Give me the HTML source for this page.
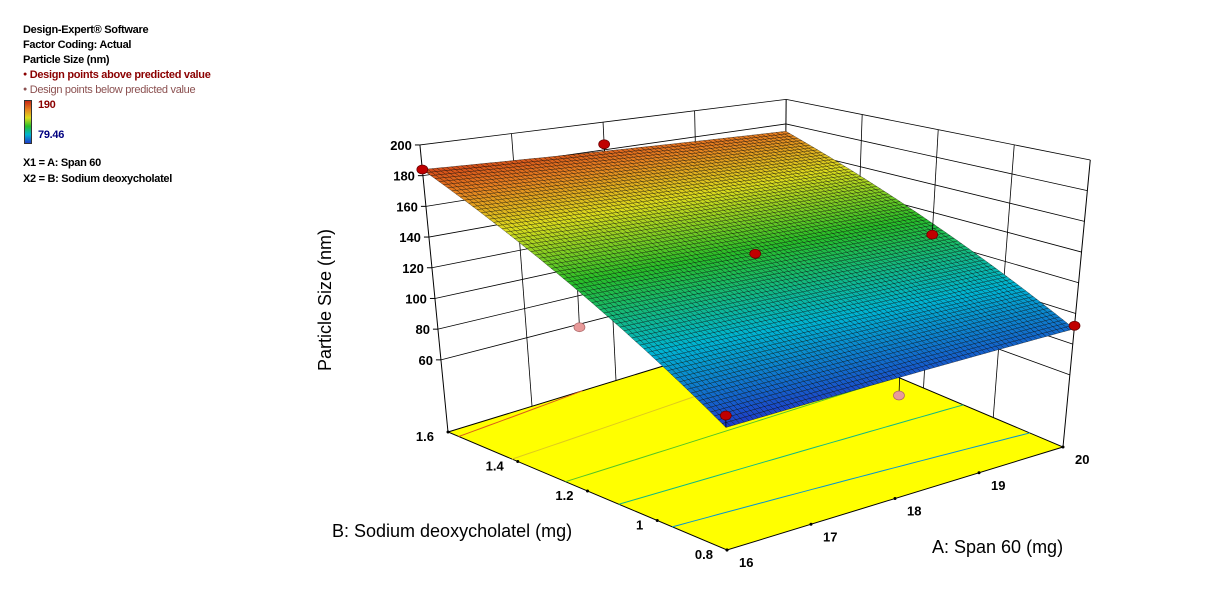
<!DOCTYPE html>
<html><head><meta charset="utf-8"><style>
body{margin:0;background:#fff;width:1205px;height:608px;overflow:hidden;font-family:"Liberation Sans",Arial,sans-serif}
.lg{position:absolute;left:23px;font-size:11px;font-weight:bold;white-space:nowrap;letter-spacing:-0.3px}
</style></head><body>
<div class="lg" style="top:24px">Design-Expert® Software</div>
<div class="lg" style="top:39px">Factor Coding: Actual</div>
<div class="lg" style="top:54px">Particle Size (nm)</div>
<div class="lg" style="top:69px;color:#8b0000"><span style="font-size:7px;vertical-align:2px">●</span> Design points above predicted value</div>
<div class="lg" style="top:84px;color:#8b5050;font-weight:normal"><span style="font-size:7px;vertical-align:2px">●</span> Design points below predicted value</div>
<div style="position:absolute;left:24px;top:100px;width:6px;height:42px;border:1px solid #333;background:linear-gradient(#c82814,#e68020,#dcdc1e,#28be28,#00b4d2,#1e3cc8)"></div>
<div class="lg" style="top:99px;left:38px;color:#8b0000">190</div>
<div class="lg" style="top:129px;left:38px;color:#000080">79.46</div>
<div class="lg" style="top:157px">X1 = A: Span 60</div>
<div class="lg" style="top:173px">X2 = B: Sodium deoxycholatel</div>
<svg id="chart" width="1205" height="608" style="position:absolute;left:0;top:0"></svg>
<script>
const aTicks=[16,17,18,19,20];
const bTicks=[1.6,1.4,1.2,1,0.8];
const zTicks=[60,80,100,120,140,160,180,200];
// surface corner values: [A16B1.6, A20B1.6, A16B0.8, A20B0.8]
const cornerVals=[184,174,79.5,90];
const contourLevels=[100,120,140,160,180];
const designA=[16,18,18,20,20,16,16,18];
const designB=[1.6,1.6,1.2,1.2,0.8,0.8,1.2,0.8];
const designVal=[184,184,134,124,92,86,110,74];
const designAbove=[1,1,1,1,1,1,0,0];

const svg=document.getElementById('chart');const NS='http://www.w3.org/2000/svg';
const ZF=13;
function P(a,b,z){const p=(a-16)/4,q=(1.6-b)/0.8;const x0=448+336*p+279*q,y0=432-103*p+118*q;
const n=q-p,s=1+0.2*n,h=(z-ZF)*1.535*s,hf=(z-ZF)/(200-ZF);return [x0+(x0-760)*0.09*hf,y0-h];}
function f(a,b){const p=(a-16)/4,q=(1.6-b)/0.8;return cornerVals[0]*(1-p)*(1-q)+cornerVals[1]*p*(1-q)+cornerVals[2]*(1-p)*q+cornerVals[3]*p*q;}
function el(t,at,name,txt){const e=document.createElementNS(NS,t);for(const k in at)e.setAttribute(k,at[k]);


if(txt!==undefined)e.textContent=txt;svg.appendChild(e);return e;}
function line(p1,p2,st,w,name){return el('line',{x1:p1[0],y1:p1[1],x2:p2[0],y2:p2[1],stroke:st,'stroke-width':w},name);}
function cmap(v){const t=Math.max(0,Math.min(1,(v-79.46)/(190-79.46)));
const st=[[0,[30,60,200]],[0.25,[0,180,210]],[0.5,[40,190,40]],[0.7,[220,220,30]],[0.85,[230,128,32]],[1,[200,40,20]]];
for(let i=0;i<st.length-1;i++){if(t<=st[i+1][0]){const u=(t-st[i][0])/(st[i+1][0]-st[i][0]);return 'rgb('+st[i][1].map((c,j)=>Math.round(c+(st[i+1][1][j]-c)*u)).join(',')+')';}}return 'rgb(200,40,20)';}
// floor
const fl=[P(16,1.6,ZF),P(20,1.6,ZF),P(20,0.8,ZF),P(16,0.8,ZF)];
el('polygon',{points:fl.map(p=>p.join(',')).join(' '),fill:'#ffff00',stroke:'#000','stroke-width':1},'floor');
// contours on floor
contourLevels.forEach(L=>{let pts=[];for(let i=0;i<=40;i++){const a=16+4*i/40;const v1=f(a,1.6),v0=f(a,0.8);const t=(L-v0)/(v1-v0);if(t>=0&&t<=1){pts.push(P(a,0.8+0.8*t,ZF));}}
if(pts.length>1)el('polyline',{points:pts.map(p=>p.join(',')).join(' '),fill:'none',stroke:cmap(L),'stroke-width':1},'contour-'+L);});
// walls
const zTop=200;
line(P(16,1.6,ZF),P(16,1.6,zTop),'#000',1,'z-axis-line');
line(P(20,1.6,ZF),P(20,1.6,zTop),'#000',1,'back-edge');
line(P(20,0.8,ZF),P(20,0.8,zTop),'#000',1,'right-edge');
zTicks.forEach(z=>{line(P(16,1.6,z),P(20,1.6,z),'#000',0.8,'wall-grid-'+z);line(P(20,1.6,z),P(20,0.8,z),'#000',0.8,'wall-grid-'+z);});
[17,18,19].forEach(a=>line(P(a,1.6,ZF),P(a,1.6,zTop),'#000',0.8,'wall-grid-a'+a));
[1.4,1.2,1].forEach(b=>line(P(20,b,ZF),P(20,b,zTop),'#000',0.8,'wall-grid-b'+b));
// z ticks
zTicks.forEach(z=>{const p=P(16,1.6,z);line([p[0]-5,p[1]],p,'#000',1,'z-tick');
el('text',{x:p[0]-8,y:p[1]+5,'text-anchor':'end','font-size':13,'font-weight':'bold'},'z-tick-label',z);});
bTicks.forEach(b=>{const p=P(16,b,ZF);el('circle',{cx:p[0],cy:p[1],r:1.5,fill:'#000'},'b-tick');
el('text',{x:p[0]-14,y:p[1]+9,'text-anchor':'end','font-size':13,'font-weight':'bold'},'b-tick-label',b);});
aTicks.forEach(a=>{const p=P(a,0.8,ZF);el('circle',{cx:p[0],cy:p[1],r:1.5,fill:'#000'},'a-tick');
el('text',{x:p[0]+12,y:p[1]+17,'text-anchor':'start','font-size':13,'font-weight':'bold'},'a-tick-label',a);});
// surface
const N=75;
for(let i=0;i<N;i++)for(let j=0;j<N;j++){const a0=16+4*i/N,a1=16+4*(i+1)/N,b0=1.6-0.8*j/N,b1=1.6-0.8*(j+1)/N;
const ps=[P(a0,b0,f(a0,b0)),P(a1,b0,f(a1,b0)),P(a1,b1,f(a1,b1)),P(a0,b1,f(a0,b1))];
el('polygon',{points:ps.map(p=>p[0].toFixed(1)+','+p[1].toFixed(1)).join(' '),fill:cmap(f((a0+a1)/2,(b0+b1)/2)),stroke:'rgba(0,0,0,0.6)','stroke-width':0.5},'surface-cell');}
// design points
designA.forEach((a,i)=>{const b=designB[i],v=designVal[i];const p=P(a,b,v),s=P(a,b,f(a,b));
line(p,s,'#000',0.8,'design-stem');
el('ellipse',{cx:p[0],cy:p[1],rx:5.5,ry:4.5,fill:designAbove[i]?'#c00000':'#e89a9a',stroke:designAbove[i]?'#600':'#a66','stroke-width':0.7},designAbove[i]?'design-point-above':'design-point-below');});
// axis titles
el('text',{x:0,y:0,transform:'translate(331,300) rotate(-90)','text-anchor':'middle','font-size':18},'z-axis-title','Particle Size (nm)');
el('text',{x:332,y:537,'font-size':18},'b-axis-title','B: Sodium deoxycholatel (mg)');
el('text',{x:932,y:553,'font-size':18},'a-axis-title','A: Span 60 (mg)');
</script>
</body></html>
